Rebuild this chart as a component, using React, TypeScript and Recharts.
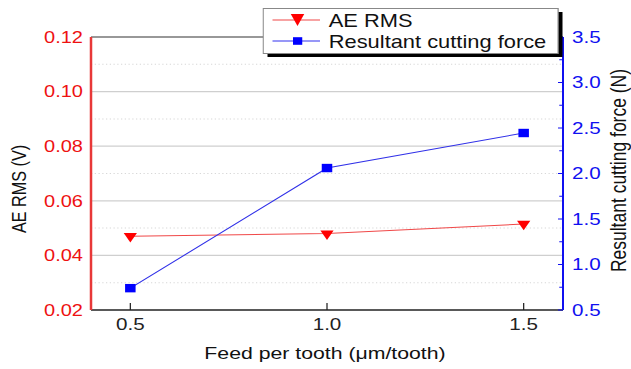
import { LineChart, Line, XAxis, YAxis, Legend, ReferenceLine } from "recharts";

// feed per tooth (µm/tooth)
const feed = [0.5, 1.0, 1.5];
// AE RMS (V)
const aeRms = [0.047, 0.048, 0.0515];
// resultant cutting force (N)
const cuttingForce = [0.74, 2.06, 2.445];

const feedTicks = [0.5, 1.0, 1.5];
const aeTicks = [0.02, 0.04, 0.06, 0.08, 0.1, 0.12];
const aeGrid = [0.04, 0.06, 0.08, 0.1];
const aeMinorGrid = [0.03, 0.05, 0.07, 0.09, 0.11];
const forceTicks = [0.5, 0.75, 1.0, 1.25, 1.5, 1.75, 2.0, 2.25, 2.5, 2.75, 3.0, 3.25, 3.5];

const seriesNames = ["AE RMS", "Resultant cutting force"];

const data = feed.map((f, i) => ({ feed: f, ae: aeRms[i], force: cuttingForce[i] }));

// the whole plot is drawn narrow and stretched sideways
const STRETCH = 1.25;
const W = 505;
const H = 369;

const RED = "#ee1111";
const BLUE = "#1010f0";
const FONT = "Arial, 'Liberation Sans', sans-serif";

const TriangleDot = (props: any) => {
  const { cx, cy, index } = props;
  if (cx == null || cy == null) return null;
  const w = 10.6;
  const h = 9.5;
  const top = cy - h / 3;
  return (
    <path
      key={`tri-${index}`}
      d={`M${cx - w / 2},${top} L${cx + w / 2},${top} L${cx},${top + h} Z`}
      fill="#ff0000"
    />
  );
};

const SquareDot = (props: any) => {
  const { cx, cy, index } = props;
  if (cx == null || cy == null) return null;
  const s = 8.4;
  return <rect key={`sq-${index}`} x={cx - s / 2} y={cy - s / 2} width={s} height={s} fill="#0000ff" />;
};

const AeTick = ({ x, y, payload }: any) => (
  <text x={x - 6.4} y={y} dy="0.36em" textAnchor="end" fill={RED} fontSize={16} fontFamily={FONT}>
    {payload.value.toFixed(2)}
  </text>
);

const ForceTick = ({ x, y, payload }: any) => {
  const major = Math.abs(payload.value * 2 - Math.round(payload.value * 2)) < 1e-6;
  return (
    <g>
      <line x1={x} x2={x - (major ? 4 : 3)} y1={y} y2={y} stroke={BLUE} strokeWidth={1} />
      {major && (
        <text x={x + 7.2} y={y} dy="0.36em" textAnchor="start" fill={BLUE} fontSize={16.5} fontFamily={FONT}>
          {payload.value.toFixed(1)}
        </text>
      )}
    </g>
  );
};

const FeedTick = ({ x, y, payload }: any) => (
  <g>
    <line x1={x} x2={x} y1={y} y2={y - 7} stroke="#222" strokeWidth={1} />
    <text x={x} y={y + 20} textAnchor="middle" fill="#222" fontSize={16.5} fontFamily={FONT}>
      {payload.value.toFixed(1)}
    </text>
  </g>
);

const LegendBox = () => (
  <svg width={245} height={55} style={{ display: "block" }}>
    <rect x={4} y={4} width={236} height={45} fill="#000" />
    <rect x={0.5} y={0.5} width={236} height={45} fill="#fff" stroke="#888" strokeWidth={1} />
    {/* AE RMS */}
    <line x1={8} x2={46} y1={12} y2={12} stroke="#f04848" strokeWidth={1} />
    <path d="M22.6,6 L33.4,6 L28,18 Z" fill="#ff0000" />
    <text x={53} y={19} fontSize={17.5} fontFamily={FONT} fill="#111">
      {seriesNames[0]}
    </text>
    {/* cutting force */}
    <line x1={8} x2={46} y1={33} y2={33} stroke="#3030f0" strokeWidth={1} />
    <rect x={24.4} y={29.2} width={7.4} height={7.6} fill="#0000ff" />
    <text x={53} y={40} fontSize={17.5} fontFamily={FONT} fill="#111">
      {seriesNames[1]}
    </text>
  </svg>
);

export default function App() {
  return (
    <div
      style={{
        position: "absolute",
        left: 0,
        top: 0,
        width: W,
        height: H,
        background: "#fff",
        transform: `scaleX(${STRETCH})`,
        transformOrigin: "0 0",
      }}
    >
      <LineChart width={W} height={H} data={data} margin={{ top: 37, right: 4.6, bottom: 19, left: 22.8 }}>
        <XAxis
          dataKey="feed"
          type="number"
          domain={[0.4, 1.6]}
          ticks={feedTicks}
          interval={0}
          height={40}
          tickSize={0}
          tickMargin={0}
          tickLine={false}
          tick={FeedTick}
          axisLine={{ stroke: "#222", strokeWidth: 1.5 }}
          label={() => (
            <text x={260} y={359} textAnchor="middle" fontSize={17} fontFamily={FONT} fill="#111">
              Feed per tooth (μm/tooth)
            </text>
          )}
        />
        <YAxis
          yAxisId="ae"
          orientation="left"
          width={50}
          domain={[0.02, 0.12]}
          ticks={aeTicks}
          interval={0}
          tickSize={0}
          tickMargin={0}
          tickLine={false}
          tick={AeTick}
          axisLine={{ stroke: "#e83838", strokeWidth: 2 }}
          label={() => (
            <text
              x={20.8}
              y={189}
              transform="rotate(-90 20.8 189)"
              textAnchor="middle"
              fontSize={16.2}
              fontFamily={FONT}
              fill="#111"
            >
              AE RMS (V)
            </text>
          )}
        />
        <YAxis
          yAxisId="force"
          orientation="right"
          width={50}
          domain={[0.5, 3.5]}
          ticks={forceTicks}
          interval={0}
          tickSize={0}
          tickMargin={0}
          tickLine={false}
          tick={ForceTick}
          axisLine={{ stroke: BLUE, strokeWidth: 1.6 }}
          label={() => (
            <text
              x={501}
              y={170.5}
              transform="rotate(-90 501 170.5)"
              textAnchor="middle"
              fontSize={17.5}
              fontFamily={FONT}
              fill="#111"
            >
              Resultant cutting force (N)
            </text>
          )}
        />
        {aeMinorGrid.map((v) => (
          <ReferenceLine key={`m${v}`} yAxisId="ae" y={v} stroke="#d8d8d8" strokeDasharray="1 2" />
        ))}
        {aeGrid.map((v) => (
          <ReferenceLine key={`g${v}`} yAxisId="ae" y={v} stroke="#cfcfcf" strokeWidth={1.2} />
        ))}
        <ReferenceLine yAxisId="ae" y={0.12} stroke="#333" strokeWidth={1} />
        <Legend
          layout="vertical"
          align="center"
          verticalAlign="middle"
          content={LegendBox}
          wrapperStyle={{ position: "absolute", left: 209.6, top: 8, width: 245, height: 55 }}
        />
        <Line
          yAxisId="ae"
          dataKey="ae"
          name={seriesNames[0]}
          type="linear"
          stroke="#f04848"
          strokeWidth={1}
          dot={TriangleDot}
          activeDot={false}
          isAnimationActive={false}
        />
        <Line
          yAxisId="force"
          dataKey="force"
          name={seriesNames[1]}
          type="linear"
          stroke="#3030e8"
          strokeWidth={1}
          dot={SquareDot}
          activeDot={false}
          isAnimationActive={false}
        />
      </LineChart>
    </div>
  );
}
